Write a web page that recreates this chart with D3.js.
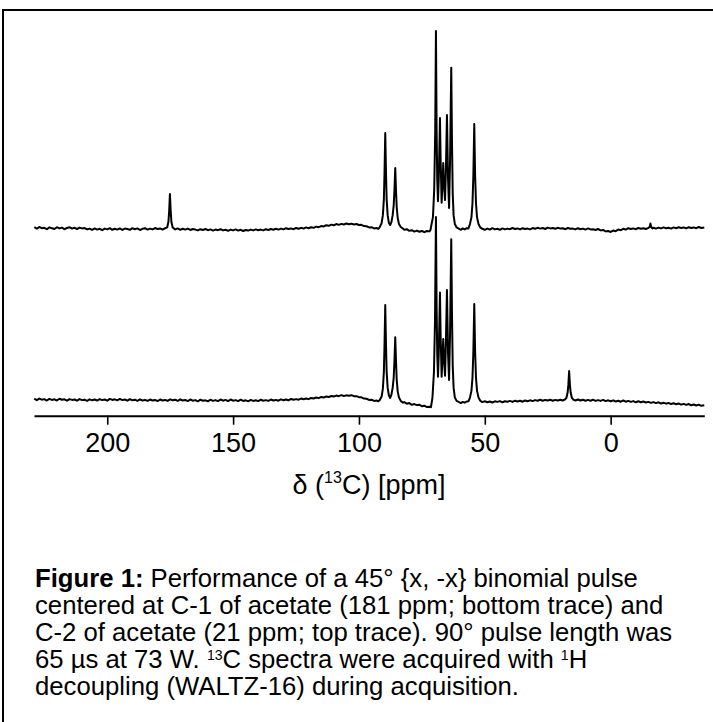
<!DOCTYPE html>
<html>
<head>
<meta charset="utf-8">
<script src="https://cdn.jsdelivr.net/npm/d3@7"></script>
<style>
  html, body { margin: 0; padding: 0; background: #fff; }
  svg { display: block; }
  text { font-family: "Liberation Sans", Arial, sans-serif; fill: #000; }
</style>
</head>
<body>
<svg id="chart" width="713" height="722"></svg>
<script>
// ---- data (chemical shift in ppm, intensity in arbitrary units; tallest top-trace peak = 100) ----
const tickValues = [200, 150, 100, 50, 0];
const tickLabels = ["200", "150", "100", "50", "0"];
const xDomain = [229.1, -37.2];

// top trace: pulse centred at C-2 of acetate
const topTrace = [
  [229,0.9],[228,0.2],[227,1.0],[226,0.4],[225,0.6],[224,-0.1],[223,0.8],[222,0.4],[221,0.0],[220,0.9],
  [219,0.3],[218,0.7],[217,-0.1],[216,0.5],[215,0.9],[214,0.2],[213,0.6],[212,0.0],[211,0.7],[210,0.3],
  [209,0.5],[208,-0.2],[207,0.2],[206,-0.5],[205,0.3],[204,-0.3],[203,0.1],[202,-0.6],[201,0.2],[200,-0.2],
  [199,0.4],[198,-0.4],[197,0.1],[196,-0.3],[195,0.3],[194,-0.5],[193,0.2],[192,0.0],[191,-0.4],[190,0.4],
  [189,-0.1],[188,0.3],[187,-0.5],[186,0.1],[185,0.4],[184,-0.3],[183,0.2],[182,-0.2],[181,0.5],[180,0.0],
  [179,0.3],[178,-0.3],[177,0.4],
  [176.2,0.8],[175.7,3.5],[175.4,9],[175.1,17.7],[174.8,9],[174.5,3.5],[174.0,0.8],
  [173,-0.2],[172,0.3],[171,-0.4],[170,0.1],[169,-0.3],[168,0.2],[167,-0.5],[166,0.0],[165,-0.3],[164,-0.7],
  [163,-0.1],[162,-0.5],[161,0.0],[160,-0.6],[159,-0.2],[158,-0.8],[157,-0.3],[156,-0.6],[155,-0.1],[154,-0.7],
  [153,-0.4],[152,-0.9],[151,-0.3],[150,-0.7],[149,-0.2],[148,-0.8],[147,-0.4],[146,-1.0],[145,-0.5],[144,-0.8],
  [143,-0.3],[142,-0.7],[141,-0.2],[140,-0.6],[139,-0.3],[138,-0.7],[137,-0.1],[136,-0.5],[135,0.0],[134,-0.4],
  [133,0.1],[132,-0.3],[131,0.2],[130,-0.2],[129,0.4],[128,0.0],[127,0.3],[126,-0.1],[125,0.5],[124,0.1],
  [123,0.6],[122,0.2],[121,0.8],[120,0.4],[119,0.9],[118,0.6],[117,1.2],[116,0.9],[115,1.5],[114,1.3],
  [113,1.9],[112,1.6],[111,2.2],[110,1.9],[109,2.5],[108,2.1],[107,2.6],[106,2.3],[105,2.8],[104,2.4],
  [103,2.7],[102,2.3],[101,2.5],[100,2.0],[99,2.1],[98,1.5],[97,1.4],[96,0.8],[95,0.9],[94,0.3],[93,0.5],[92.3,0.1],
  [91.8,0.8],[91.0,3],[90.5,7],[90.1,15],[89.85,28],[89.55,48.5],[89.25,28],[89.0,15],[88.6,7],[88.1,3],
  [87.6,2],[87.1,3.5],[86.6,7],[86.2,12],[85.88,20],[85.58,30.8],[85.3,20],[85.0,11],[84.6,5.5],[84.1,2.5],
  [83.4,1.0],[82.5,0.2],[82,-0.4],[81,-0.1],[80,-0.9],[79,-0.6],[78,-1.3],[77,-0.8],[76,-1.4],[75,-1.0],
  [74,-1.6],[73,-1.0],[72,-1.2],[71.6,-0.6],
  [71.3,1.5],[70.6,6],[70.1,20],[69.7,50],[69.41,100],[69.15,50],[68.9,25],[68.6,14],[68.3,25],[68.05,40],
  [67.82,56],[67.55,35],[67.15,13.3],[66.85,22],[66.51,33.3],[66.2,22],[65.8,14.6],[65.45,30],[65.04,57.6],
  [64.6,25],[64.2,10.6],[63.8,35],[63.55,60],[63.33,81.5],[63.05,45],[62.75,18],[62.4,7],[61.9,2.5],[61.2,0.8],[60.2,0.1],
  [59.5,-0.4],[58.8,0.3],[58,-0.2],[57.2,0.4],[56.5,0.3],
  [55.9,2.5],[55.3,6],[54.9,13],[54.55,27],[54.19,53],[53.85,27],[53.5,13],[53.1,6],[52.5,2.5],[51.8,0.8],[51,0.1],
  [50,-0.4],[49,0.2],[48,-0.3],[47,0.4],[46,-0.2],[45,0.1],[44,-0.4],[43,0.3],[42,-0.2],[41,0.2],
  [40,-0.1],[39,0.5],[38,0.0],[37,0.3],[36,-0.2],[35,0.4],[34,0.0],[33,0.2],[32,-0.2],[31,0.5],
  [30,0.1],[29,0.6],[28,0.2],[27,0.5],[26,0.0],[25,0.7],[24,0.3],[23,0.5],[22,0.1],[21,0.6],
  [20,0.2],[19,0.4],[18,-0.1],[17,0.5],[16,0.1],[15,0.2],[14,-0.2],[13,0.4],[12,-0.1],[11,0.2],
  [10,-0.3],[9,0.3],[8,-0.2],[7,-0.1],[6,-0.5],[5,0.0],[4,-0.7],[3,-0.5],[2,-1.2],[1,-1.0],
  [0,-1.5],[-1,-0.8],[-2,-1.1],[-3,-0.3],[-4,-0.6],[-5,0.1],[-6,-0.3],[-7,0.4],[-8,0.0],[-9,0.3],
  [-10,-0.1],[-11,0.5],[-12,0.1],[-13,0.4],[-14,0.0],[-15,0.6],[-15.5,1.0],[-15.8,2.8],[-16.1,1.0],[-16.6,0.3],
  [-17,0.6],[-18,0.2],[-19,0.7],[-20,0.3],[-21,0.8],[-22,0.4],[-23,0.6],[-24,0.2],[-25,0.8],[-26,0.4],
  [-27,0.9],[-28,0.5],[-29,0.8],[-30,0.3],[-31,0.9],[-32,0.5],[-33,0.8],[-34,0.4],[-35,1.0],[-36,0.5],[-37.2,0.8]
];

// bottom trace: pulse centred at C-1 of acetate
const bottomTrace = [
  [229,1.4],[228,0.7],[227,1.5],[226,0.9],[225,1.2],[224,0.5],[223,1.3],[222,0.8],[221,1.1],[220,0.5],
  [219,1.4],[218,0.9],[217,1.1],[216,0.4],[215,1.2],[214,0.8],[213,1.0],[212,0.4],[211,1.2],[210,0.7],
  [209,0.9],[208,0.3],[207,1.1],[206,0.6],[205,1.0],[204,0.5],[203,1.2],[202,0.7],[201,1.0],[200,0.4],
  [199,1.3],[198,0.8],[197,1.1],[196,0.6],[195,1.3],[194,0.7],[193,1.0],[192,0.4],[191,1.2],[190,0.6],
  [189,0.9],[188,0.3],[187,1.1],[186,0.5],[185,0.8],[184,0.3],[183,1.0],[182,0.5],[181,0.8],[180,0.2],
  [179,1.0],[178,0.5],[177,0.8],[176,0.3],[175,1.1],[174,0.6],[173,0.9],[172,0.3],[171,1.1],[170,0.5],
  [169,0.8],[168,0.2],[167,1.0],[166,0.4],[165,0.7],[164,0.1],[163,0.9],[162,0.4],[161,0.6],[160,0.1],
  [159,0.9],[158,0.3],[157,0.7],[156,0.2],[155,1.0],[154,0.4],[153,0.8],[152,0.2],[151,1.0],[150,0.4],
  [149,0.7],[148,0.2],[147,0.9],[146,0.3],[145,0.6],[144,0.1],[143,0.8],[142,0.3],[141,0.6],[140,0.2],
  [139,0.9],[138,0.4],[137,0.7],[136,0.3],[135,1.0],[134,0.5],[133,0.8],[132,0.4],[131,1.1],[130,0.6],
  [129,1.0],[128,0.6],[127,1.3],[126,0.9],[125,1.2],[124,0.9],[123,1.5],[122,1.1],[121,1.5],[120,1.2],
  [119,1.8],[118,1.5],[117,2.0],[116,1.7],[115,2.3],[114,2.0],[113,2.5],[112,2.3],[111,2.8],[110,2.5],
  [109,3.0],[108,2.7],[107,3.2],[106,2.8],[105,3.1],[104,2.9],[103,3.2],[102,2.7],[101,2.7],[100,2.2],
  [99,2.1],[98,1.5],[97,1.4],[96,0.8],[95,0.9],[94,0.3],[93,0.5],[92.3,0.1],
  [91.8,0.6],[91.0,2.5],[90.5,6.5],[90.1,15],[89.85,28],[89.55,48.7],[89.25,28],[89.0,15],[88.6,7],[88.1,3],
  [87.6,1.8],[87.1,3.5],[86.6,7],[86.2,12],[85.88,21],[85.58,32.4],[85.3,21],[85.0,11],[84.6,5],[84.1,2],
  [83.4,0.3],[82.5,-0.6],[82,-0.3],[81,-1.1],[80,-0.8],[79,-1.7],[78,-1.3],[77,-1.8],[76,-1.6],[75,-2.4],
  [74,-2.1],[73,-2.8],[72,-2.6],[71.4,-2.9],
  [70.8,2],[70.2,15],[69.8,40],[69.41,93.2],[69.15,48],[68.9,24],[68.6,12.5],[68.3,24],[68.05,40],
  [67.82,55],[67.55,33],[67.15,12.5],[66.85,21],[66.51,31.6],[66.2,21],[65.8,13],[65.45,30],[65.04,56.3],
  [64.6,24],[64.2,10.9],[63.8,35],[63.55,60],[63.33,81.9],[63.05,45],[62.75,18],[62.4,7],[61.9,2],[61.2,0.3],[60.2,-0.3],
  [59.5,-0.8],[58.8,-0.2],[58,-0.6],[57.2,0.0],[56.5,0.1],
  [55.9,2],[55.3,5.5],[54.9,12],[54.55,25],[54.19,49.2],[53.85,25],[53.5,12],[53.1,5.5],[52.5,2],[51.8,0.4],[51,-0.3],
  [50,0.1],[49,-0.4],[48,0.0],[47,-0.5],[46,0.1],[45,-0.2],[44,0.2],[43,-0.4],[42,0.1],[41,-0.1],
  [40,0.3],[39,-0.2],[38,0.4],[37,0.0],[36,0.4],[35,-0.1],[34,0.5],[33,0.1],[32,0.6],[31,0.2],
  [30,0.7],[29,0.4],[28,0.9],[27,0.4],[26,0.8],[25,0.5],[24,0.9],[23,0.4],[22,0.8],[21,0.5],
  [20,0.9],[19,0.5],[18.2,1.0],
  [17.6,1.8],[17.1,4.5],[16.8,8.5],[16.5,15.4],[16.2,8.5],[15.9,4.5],[15.4,1.8],[14.8,0.9],
  [14,0.5],[13,1.0],[12,0.5],[11,0.9],[10,0.4],[9,0.8],[8,0.4],[7,0.9],[6,0.3],[5,0.7],
  [4,0.3],[3,0.8],[2,0.2],[1,0.6],[0,0.1],[-1,0.6],[-2,0.0],[-3,0.4],[-4,-0.1],[-5,0.5],
  [-6,-0.1],[-7,0.3],[-8,-0.2],[-9,0.2],[-10,-0.4],[-11,0.1],[-12,-0.4],[-13,0.0],[-14,-0.5],[-15,-0.2],
  [-16,-0.7],[-17,-0.3],[-18,-0.8],[-19,-0.4],[-20,-1.0],[-21,-0.6],[-22,-1.1],[-23,-0.7],[-24,-1.3],[-25,-0.9],
  [-26,-1.4],[-27,-1.0],[-28,-1.6],[-29,-1.2],[-30,-1.7],[-31,-1.3],[-32,-1.9],[-33,-1.5],[-34,-2.0],[-35,-1.6],
  [-36,-2.2],[-37.2,-1.9]
];

const axisTitle = { delta: "δ (", sup: "13", rest: "C) [ppm]" };
const captionLines = [
  [{t:"Figure 1:", b:true}, {t:" Performance of a 45° {x, -x} binomial pulse"}],
  [{t:"centered at C-1 of acetate (181 ppm; bottom trace) and"}],
  [{t:"C-2 of acetate (21 ppm; top trace). 90° pulse length was"}],
  [{t:"65 µs at 73 W. "}, {t:"13", sup:true}, {t:"C spectra were acquired with "}, {t:"1", sup:true}, {t:"H"}],
  [{t:"decoupling (WALTZ-16) during acquisition."}]
];

// ---- drawing ----
const svg = d3.select("#chart");
svg.append("rect").attr("width", 713).attr("height", 722).attr("fill", "#fff");

// frame (top and left edges visible)
svg.append("line").attr("x1", 3).attr("x2", 713).attr("y1", 10).attr("y2", 10)
  .attr("stroke", "#000").attr("stroke-width", 2);
svg.append("line").attr("x1", 3).attr("x2", 3).attr("y1", 9).attr("y2", 722)
  .attr("stroke", "#000").attr("stroke-width", 2);

const x = d3.scaleLinear().domain(xDomain).range([34, 704.3]);
const yTop = d3.scaleLinear().domain([0, 100]).range([229, 31]);
const yBot = d3.scaleLinear().domain([0, 100]).range([401.5, 203.5]);

const lineTop = d3.line().x(d => x(d[0])).y(d => yTop(d[1]));
const lineBot = d3.line().x(d => x(d[0])).y(d => yBot(d[1]));

svg.append("path").datum(topTrace).attr("d", lineTop)
  .attr("fill", "none").attr("stroke", "#000").attr("stroke-width", 2).attr("stroke-linejoin", "round");
svg.append("path").datum(bottomTrace).attr("d", lineBot)
  .attr("fill", "none").attr("stroke", "#000").attr("stroke-width", 2).attr("stroke-linejoin", "round");

// axis
const axis = d3.axisBottom(x).tickValues(tickValues)
  .tickFormat((d, i) => tickLabels[i]).tickSize(9).tickSizeOuter(0).tickPadding(8);
const gAxis = svg.append("g").attr("transform", "translate(0,415.7)").call(axis);
gAxis.select(".domain").attr("stroke", "#000").attr("stroke-width", 2);
gAxis.selectAll(".tick line").attr("stroke", "#000").attr("stroke-width", 1.6);
gAxis.selectAll(".tick text").attr("font-family", "Liberation Sans, Arial, sans-serif")
  .attr("font-size", 27).attr("fill", "#000");

// axis title
const title = svg.append("text").attr("x", 369).attr("y", 494)
  .attr("text-anchor", "middle").attr("font-size", 27);
title.append("tspan").text(axisTitle.delta);
title.append("tspan").text(axisTitle.sup).attr("font-size", 16).attr("dy", -11);
title.append("tspan").text(axisTitle.rest).attr("dy", 11);

// caption
const capY0 = 587, capDy = 27;
captionLines.forEach((segs, i) => {
  const t = svg.append("text").attr("x", 35).attr("y", capY0 + i * capDy).attr("font-size", 25.7);
  let raised = false;
  segs.forEach(s => {
    const ts = t.append("tspan").text(s.t);
    if (s.b) ts.attr("font-weight", "bold");
    if (s.sup) { ts.attr("font-size", 14).attr("dy", raised ? 0 : -8); raised = true; }
    else if (raised) { ts.attr("dy", 8); raised = false; }
  });
});
</script>
</body>
</html>
